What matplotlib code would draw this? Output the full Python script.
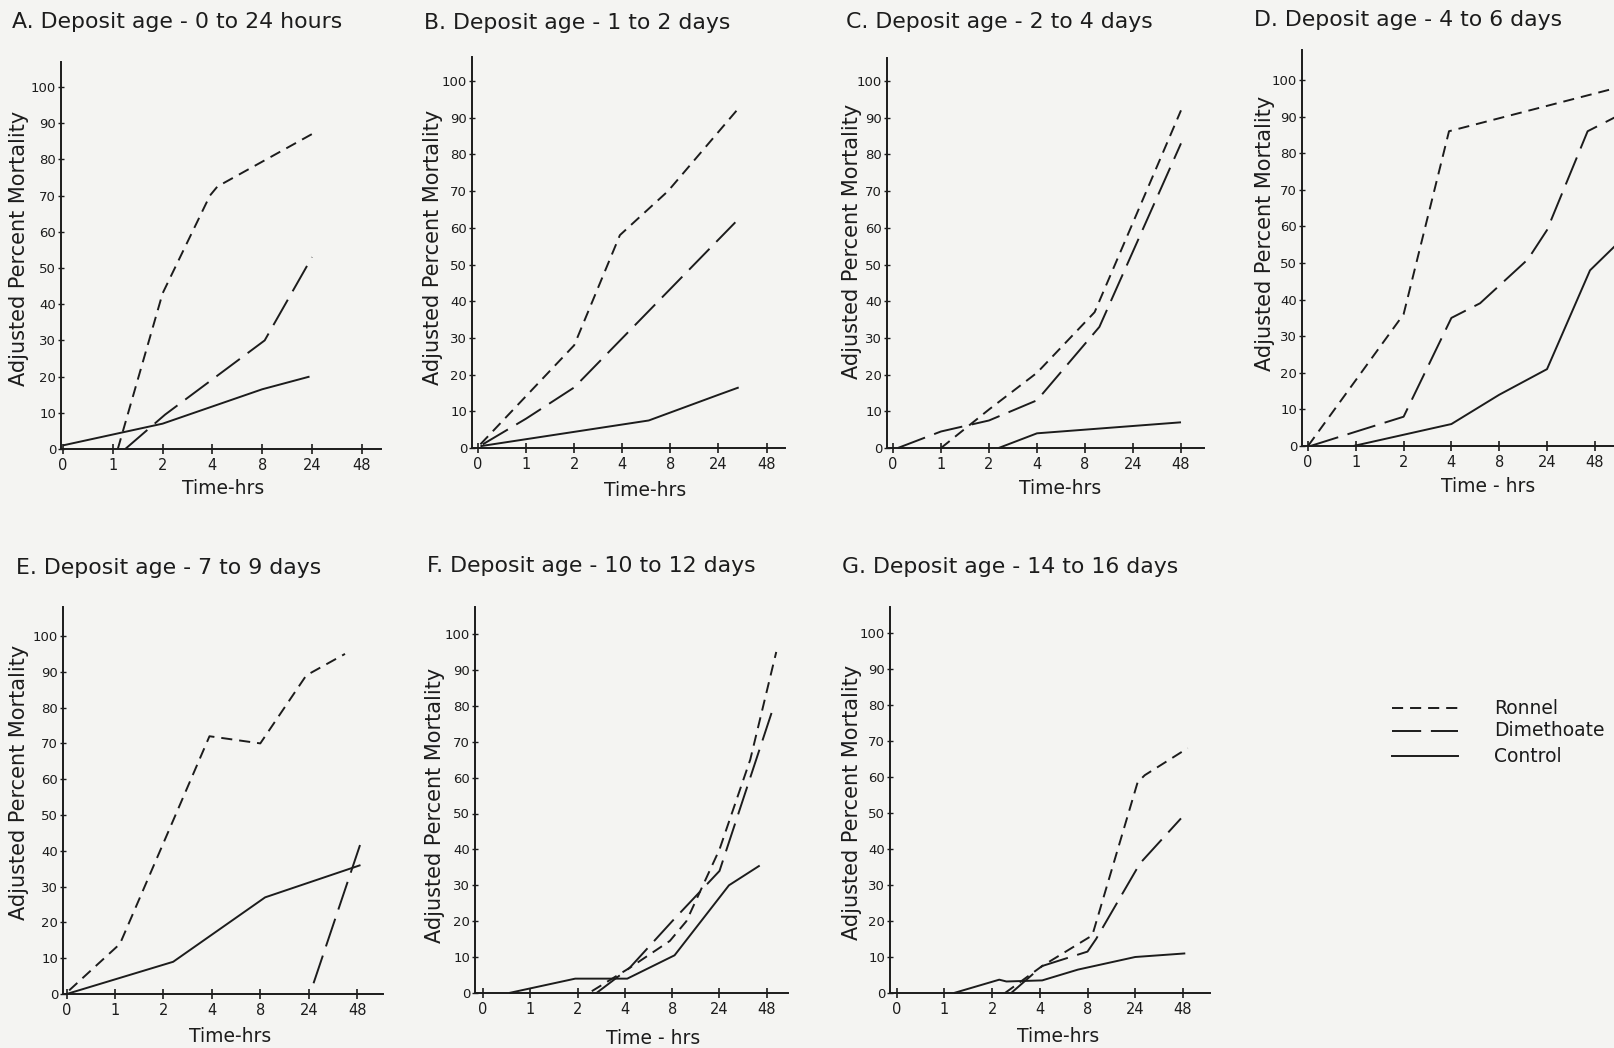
import matplotlib
matplotlib.use("Agg")
import matplotlib.pyplot as plt
from matplotlib.lines import Line2D

plt.rcParams['font.family'] = ['DejaVu Sans']
plt.rcParams['lines.scale_dashes'] = False

# ---------------- data (x in category index of the time axis) ----------------
time_labels = ['0', '1', '2', '4', '8', '24', '48']
y_ticks = [0, 10, 20, 30, 40, 50, 60, 70, 80, 90, 100]

titles = {
    'A': 'A. Deposit age - 0 to 24 hours',
    'B': 'B. Deposit age - 1 to 2 days',
    'C': 'C. Deposit age - 2 to 4 days',
    'D': 'D. Deposit age - 4 to 6 days',
    'E': 'E. Deposit age - 7 to 9 days',
    'F': 'F. Deposit age - 10 to 12 days',
    'G': 'G. Deposit age - 14 to 16 days',
}
xlabels = {'A': 'Time-hrs', 'B': 'Time-hrs', 'C': 'Time-hrs', 'D': 'Time - hrs',
           'E': 'Time-hrs', 'F': 'Time - hrs', 'G': 'Time-hrs'}
ylabel = 'Adjusted Percent Mortality'
series_names = ['Ronnel', 'Dimethoate', 'Control']

A_ronnel_x = [1.1, 2.0, 2.95, 3.1, 5.0]
A_ronnel_y = [0, 43, 70, 72.5, 87]
A_dimeth_x = [1.25, 2.05, 4.05, 5.0]
A_dimeth_y = [0, 9.5, 30, 53]
A_control_x = [0, 2.0, 4.0, 4.95]
A_control_y = [1, 7, 16.5, 20]

B_ronnel_x = [0.05, 2.0, 2.95, 3.95, 5.38]
B_ronnel_y = [1, 28, 58, 70, 92]
B_dimeth_x = [0.1, 1.0, 2.0, 5.35]
B_dimeth_y = [1, 8, 16.5, 61.5]
B_control_x = [0.05, 3.55, 5.0, 5.42]
B_control_y = [0.5, 7.5, 14.5, 16.5]

C_ronnel_x = [1.0, 2.0, 3.0, 4.2, 6.0]
C_ronnel_y = [0, 10.5, 20.5, 37, 92]
C_dimeth_x = [0.1, 1.0, 2.0, 3.0, 4.3, 6.0]
C_dimeth_y = [0, 4.5, 7.5, 13, 33, 83]
C_control_x = [2.2, 3.0, 6.0]
C_control_y = [0, 4, 7]

D_ronnel_x = [0.0, 2.0, 2.95, 6.5]
D_ronnel_y = [0, 36, 86, 98]
D_dimeth_x = [0.05, 0.9, 2.0, 3.0, 3.6, 4.6, 5.0, 5.85, 6.45]
D_dimeth_y = [0, 3.5, 8, 35, 39, 51, 59, 86, 90]
D_control_x = [0.95, 3.0, 4.0, 5.0, 5.9, 6.45]
D_control_y = [0, 6, 14, 21, 48, 55]

E_ronnel_x = [0.05, 1.1, 2.95, 4.0, 4.95, 5.75]
E_ronnel_y = [1, 14, 72, 70, 89, 95]
E_dimeth_x = [5.1, 6.07]
E_dimeth_y = [3, 42]
E_control_x = [0, 2.2, 4.1, 6.07]
E_control_y = [0, 9, 27, 36]

F_ronnel_x = [2.3, 3.1, 3.95, 4.3, 5.0, 5.65, 6.2]
F_ronnel_y = [0.5, 7, 14.5, 20, 40, 65, 95]
F_dimeth_x = [2.4, 3.1, 4.0, 5.0, 6.1]
F_dimeth_y = [0, 7, 20, 34, 78]
F_control_x = [0.55, 1.95, 3.05, 4.05, 5.2, 5.85]
F_control_y = [0, 4, 4, 10.5, 30, 35.5]

G_ronnel_x = [2.27, 3.05, 4.1, 5.05, 5.2, 6.1]
G_ronnel_y = [0, 7.5, 16, 58.5, 60.5, 68]
G_dimeth_x = [2.4, 3.05, 4.0, 4.18, 5.1, 5.96]
G_dimeth_y = [0, 7.5, 11.5, 15, 36, 48.5]
G_control_x = [1.2, 2.15, 2.3, 3.05, 3.8, 5.0, 6.05]
G_control_y = [0, 3.7, 3.2, 3.5, 6.5, 10, 11]

panel_data = {
    'A': [(A_ronnel_x, A_ronnel_y), (A_dimeth_x, A_dimeth_y), (A_control_x, A_control_y)],
    'B': [(B_ronnel_x, B_ronnel_y), (B_dimeth_x, B_dimeth_y), (B_control_x, B_control_y)],
    'C': [(C_ronnel_x, C_ronnel_y), (C_dimeth_x, C_dimeth_y), (C_control_x, C_control_y)],
    'D': [(D_ronnel_x, D_ronnel_y), (D_dimeth_x, D_dimeth_y), (D_control_x, D_control_y)],
    'E': [(E_ronnel_x, E_ronnel_y), (E_dimeth_x, E_dimeth_y), (E_control_x, E_control_y)],
    'F': [(F_ronnel_x, F_ronnel_y), (F_dimeth_x, F_dimeth_y), (F_control_x, F_control_y)],
    'G': [(G_ronnel_x, G_ronnel_y), (G_dimeth_x, G_dimeth_y), (G_control_x, G_control_y)],
}

# ---------------- layout (pixels in a 1615 x 1048 canvas) ----------------
W, H = 1615, 1048
INK = '#1c1c1c'
PAPER = '#f4f4f2'
styles = [dict(linestyle=(0, (8, 5))),      # Ronnel: short dashes
          dict(linestyle=(0, (21, 7))),     # Dimethoate: long dashes
          dict(linestyle='-')]              # Control: solid

layout = {
    'A': dict(yax=61, x0=63, dx=49.8, y0=449, d10=36.2, xend=381, ytop=62,
              title=(12, 22), ylab=(19, 248), xlab=(223, 489)),
    'B': dict(yax=472, x0=478, dx=48.1, y0=448, d10=36.7, xend=785, ytop=57,
              title=(424, 23), ylab=(433, 247), xlab=(645, 490)),
    'C': dict(yax=887, x0=893, dx=48.0, y0=448, d10=36.7, xend=1204, ytop=58,
              title=(846, 22), ylab=(852, 241), xlab=(1060, 489)),
    'D': dict(yax=1302, x0=1308, dx=47.8, y0=446, d10=36.6, xend=1650, ytop=50,
              title=(1254, 20), ylab=(1265, 233), xlab=(1488, 486)),
    'E': dict(yax=63, x0=66.7, dx=48.4, y0=994, d10=35.8, xend=383, ytop=607,
              title=(16, 568), ylab=(19, 782), xlab=(230, 1037)),
    'F': dict(yax=475, x0=483, dx=47.3, y0=993, d10=35.9, xend=788, ytop=607,
              title=(427, 566), ylab=(435, 805), xlab=(653, 1038)),
    'G': dict(yax=890, x0=896.7, dx=47.7, y0=993, d10=36.0, xend=1210, ytop=607,
              title=(842, 567), ylab=(852, 802), xlab=(1058, 1036)),
}

fig = plt.figure(figsize=(W / 100, H / 100), dpi=100, facecolor=PAPER)


def fx(x):
    return x / W


def fy(y):
    return 1 - y / H


for key, L in layout.items():
    left = L['yax']
    width = L['xend'] - L['yax']
    height = L['y0'] - L['ytop']
    ax = fig.add_axes([fx(left), fy(L['y0']), width / W, height / H])
    ax.set_facecolor('none')
    ax.set_xlim((L['yax'] - L['x0']) / L['dx'], (L['xend'] - L['x0']) / L['dx'])
    ax.set_ylim(0, height / L['d10'] * 10)
    for sp in ('top', 'right'):
        ax.spines[sp].set_visible(False)
    for sp in ('left', 'bottom'):
        ax.spines[sp].set_linewidth(1.4)
        ax.spines[sp].set_color(INK)
    ax.set_xticks(range(len(time_labels)))
    ax.set_xticklabels(time_labels)
    ax.set_yticks(y_ticks)
    ax.set_yticklabels([str(v) for v in y_ticks])
    ax.tick_params(axis='x', direction='inout', length=7, width=1.2, colors=INK,
                   labelsize=10.5, pad=3)
    ax.tick_params(axis='y', direction='inout', length=5, width=1.0, colors=INK,
                   labelsize=9.5, pad=1)
    for (xs, ys), st in zip(panel_data[key], styles):
        ax.plot(xs, ys, color=INK, lw=1.4, clip_on=False,
                solid_capstyle='butt', dash_capstyle='butt', **st)
    fig.text(fx(L['title'][0]), fy(L['title'][1]), titles[key], ha='left',
             va='center', fontsize=15.8, color=INK)
    fig.text(fx(L['ylab'][0]), fy(L['ylab'][1]), ylabel, rotation=90, ha='center',
             va='center', fontsize=15, color=INK)
    fig.text(fx(L['xlab'][0]), fy(L['xlab'][1]), xlabels[key], ha='center',
             va='center', fontsize=13.5, color=INK)

# legend drawn in pixel space
ov = fig.add_axes([0, 0, 1, 1])
ov.set_xlim(0, W)
ov.set_ylim(H, 0)
ov.axis('off')
leg_rows = [708, 731, 756]
for name, st, yy in zip(series_names, styles, leg_rows):
    ov.add_line(Line2D([1392, 1458], [yy, yy], color=INK, lw=1.4, **st))
    ov.text(1494, yy, name, ha='left', va='center', fontsize=13.5, color=INK)

fig.savefig('out.png', dpi=100, facecolor=PAPER)
